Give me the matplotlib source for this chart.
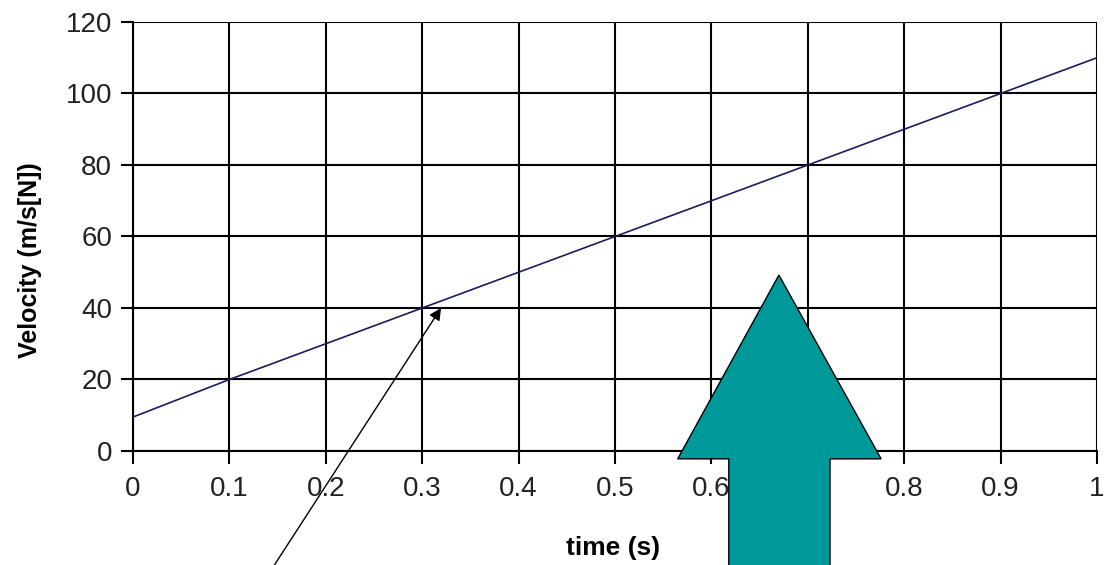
import matplotlib
matplotlib.use('Agg')
import matplotlib.pyplot as plt
from matplotlib.patches import Polygon
import numpy as np

# data
time_s = [0, 0.1, 0.2, 0.3, 0.4, 0.5, 0.6, 0.7, 0.8, 0.9, 1.0]
velocity = [9.5, 20, 30, 40, 50, 60, 70, 80, 90, 100, 110]
x_ticks = [0, 0.1, 0.2, 0.3, 0.4, 0.5, 0.6, 0.7, 0.8, 0.9, 1]
x_tick_labels = ['0', '0.1', '0.2', '0.3', '0.4', '0.5', '0.6', '0.7', '0.8', '0.9', '1']
y_ticks = [0, 20, 40, 60, 80, 100, 120]

plt.rcParams['font.family'] = ['Liberation Sans', 'DejaVu Sans']

fig = plt.figure(figsize=(11.04, 5.65), dpi=100)
ax = fig.add_axes([0.1205, 0.2018, 0.8732, 0.7593])

ax.plot(time_s, velocity, color='#1c1c5e', lw=1.2, zorder=3)

ax.set_xlim(0, 1)
ax.set_ylim(0, 120)
ax.set_xticks(x_ticks)
ax.set_xticklabels(x_tick_labels)
ax.set_yticks(y_ticks)
ax.grid(True, color='black', lw=1.5, zorder=1)
ax.set_axisbelow(True)
for s in ax.spines.values():
    s.set_linewidth(1.5)
ax.spines['top'].set_visible(False)
ax.spines['right'].set_visible(False)
ax.tick_params(direction='out', length=9, width=1.5, labelsize=20, pad=6,
               colors='black', labelcolor='#222222')
ax.tick_params(axis='x', pad=9)

fig.text(0.555, 0.03, 'time (s)', fontsize=19, fontweight='bold', ha='center', va='center')
fig.text(0.027, 0.54, 'Velocity (m/s[N])', fontsize=18, fontweight='bold',
         rotation=90, ha='center', va='center')

# thin pointer arrow from below the axes to the line
ax.annotate('', xy=(0.3195, 40), xytext=(0.144, -33),
            arrowprops=dict(arrowstyle='-|>', color='black', lw=1,
                            mutation_scale=18, shrinkA=0, shrinkB=0),
            annotation_clip=False, zorder=5)

# big teal block arrow
tip_x, tip_y = 0.670, 49.2
head_l, head_r, head_y = 0.565, 0.776, -2.2
shaft_l, shaft_r, shaft_y = 0.618, 0.723, -40
arrow = Polygon([(tip_x, tip_y), (head_r, head_y), (shaft_r, head_y), (shaft_r, shaft_y),
                 (shaft_l, shaft_y), (shaft_l, head_y), (head_l, head_y)],
                closed=True, facecolor='#009999', edgecolor='black', lw=1,
                clip_on=False, zorder=10)
ax.add_patch(arrow)

fig.savefig('out.png', dpi=100)
